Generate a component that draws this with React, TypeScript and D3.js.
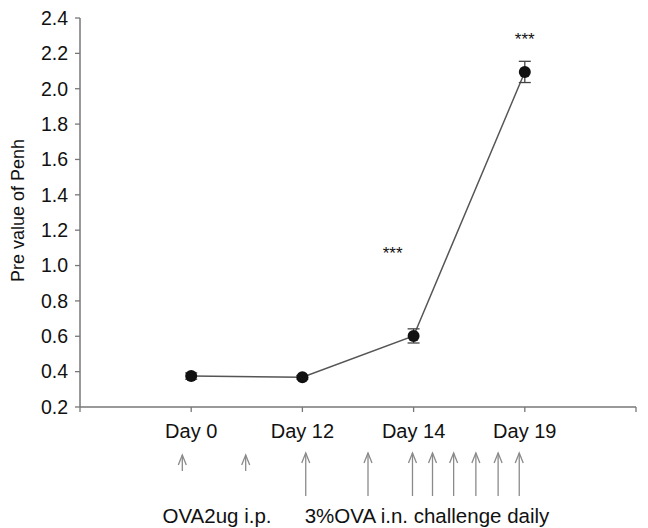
import React from 'react';
import * as d3 from 'd3';

// categories on x axis (position index on axis)
const days = ['Day 0', 'Day 12', 'Day 14', 'Day 19'];
const dayPos = [1, 2, 3, 4];
const penh = [0.375, 0.368, 0.602, 2.095];
const penhErr = [0.018, 0.01, 0.04, 0.06];
const stars = ['', '', '***', '***'];
const yTicks = [0.2, 0.4, 0.6, 0.8, 1.0, 1.2, 1.4, 1.6, 1.8, 2.0, 2.2, 2.4];

// treatment arrows, in axis units
const ipArrows = [0.92, 1.49];
const inArrows = [2.03, 2.59, 2.99, 3.17, 3.36, 3.56, 3.76, 3.95];

const W = 648;
const H = 528;
const font = 'Liberation Sans, Arial, sans-serif';

export default function App() {
  const x = d3.scaleLinear().domain([0, 5]).range([80, 636]);
  const y = d3.scaleLinear().domain([0.2, 2.4]).range([407, 18]);

  const line = d3.line<number>()
    .x((d, i) => x(dayPos[i]))
    .y(d => y(d));

  const axisCol = '#777';
  const arrowCol = '#8a8a8a';

  const arrow = (xv: number, top: number, bottom: number, key: string) => (
    <g key={key} stroke={arrowCol} strokeWidth={1.3} fill="none">
      <line x1={x(xv)} x2={x(xv)} y1={top} y2={bottom} />
      <polyline points={`${x(xv) - 4},${top + 10} ${x(xv)},${top} ${x(xv) + 4},${top + 10}`} />
    </g>
  );

  return (
    <svg width={W} height={H} style={{ position: 'absolute', left: 0, top: 0 }}>
      <rect width={W} height={H} fill="#fff" />
      {/* y axis */}
      <line x1={80} x2={80} y1={y(2.4)} y2={y(0.2)} stroke={axisCol} strokeWidth={1.5} />
      {yTicks.map(t => (
        <g key={t}>
          <line x1={75} x2={80} y1={y(t)} y2={y(t)} stroke={axisCol} strokeWidth={1.3} />
          <text x={68} y={y(t)} dy="0.35em" textAnchor="end" fontSize={19.5} fontFamily={font} fill="#111">
            {t.toFixed(1)}
          </text>
        </g>
      ))}
      <text
        transform={`translate(24,${y(1.3) - 2}) rotate(-90)`}
        textAnchor="middle"
        fontSize={18}
        fontFamily={font}
        fill="#111"
      >
        Pre value of Penh
      </text>
      {/* x axis */}
      <line x1={80} x2={636} y1={407} y2={407} stroke={axisCol} strokeWidth={1.5} />
      {[0, 1, 2, 3, 4, 5].map(t => (
        <line key={t} x1={x(t)} x2={x(t)} y1={407} y2={412} stroke={axisCol} strokeWidth={1.3} />
      ))}
      {days.map((d, i) => (
        <text key={d} x={x(dayPos[i])} y={438} textAnchor="middle" fontSize={20} fontFamily={font} fill="#111">
          {d}
        </text>
      ))}
      {/* data */}
      <path d={line(penh) || ''} fill="none" stroke="#555" strokeWidth={1.5} />
      {penh.map((v, i) => (
        <g key={i} stroke="#444" strokeWidth={1.3}>
          <line x1={x(dayPos[i])} x2={x(dayPos[i])} y1={y(v + penhErr[i])} y2={y(v - penhErr[i])} />
          <line x1={x(dayPos[i]) - 6} x2={x(dayPos[i]) + 6} y1={y(v + penhErr[i])} y2={y(v + penhErr[i])} />
          <line x1={x(dayPos[i]) - 6} x2={x(dayPos[i]) + 6} y1={y(v - penhErr[i])} y2={y(v - penhErr[i])} />
        </g>
      ))}
      {penh.map((v, i) => (
        <circle key={i} cx={x(dayPos[i])} cy={y(v)} r={6} fill="#111" />
      ))}
      {stars.map((s, i) =>
        s ? (
          <text
            key={i}
            x={i === 3 ? x(dayPos[i]) : x(dayPos[i]) - 21}
            y={i === 3 ? 45 : 259}
            textAnchor="middle"
            fontSize={17}
            fontFamily={font}
            fill="#111"
          >
            {s}
          </text>
        ) : null
      )}
      {/* treatment arrows */}
      {ipArrows.map((a, i) => arrow(a, 455, 471, 'ip' + i))}
      {inArrows.map((a, i) => arrow(a, 453, 496, 'in' + i))}
      <text x={217} y={523} textAnchor="middle" fontSize={20.5} fontFamily={font} fill="#111">
        OVA2ug i.p.
      </text>
      <text x={427} y={523} textAnchor="middle" fontSize={20.5} fontFamily={font} fill="#111">
        3%OVA i.n. challenge daily
      </text>
    </svg>
  );
}
